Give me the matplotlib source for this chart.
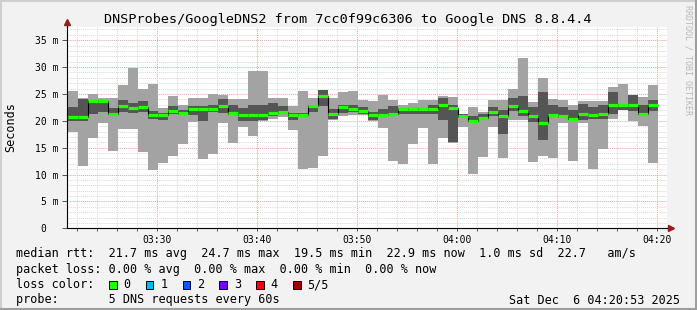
import matplotlib
matplotlib.use("Agg")
import matplotlib.pyplot as plt
import matplotlib.dates as mdates
import pandas as pd
from matplotlib.patches import Rectangle
from matplotlib.lines import Line2D

# ---------------- data ----------------
title = "DNSProbes/GoogleDNS2 from 7cc0f99c6306 to Google DNS 8.8.4.4"

# end time of each probe round (5 DNS requests every 60 s)
bin_ends = pd.date_range("2025-12-06 03:22:06", periods=59, freq="60s")

# sorted ping values per round (ms): max, 4th, median, 2nd, min
ping_max = [25.5, 24.3, 24.9, 24.2, 24.3, 26.6, 29.8, 26.0, 26.8, 22.4,
            24.6, 22.9, 24.3, 24.3, 24.9, 24.8, 24.0, 24.0, 29.2, 29.2,
            24.3, 24.3, 22.7, 25.5, 24.3, 25.8, 24.2, 25.3, 25.5, 23.8,
            23.7, 24.8, 23.9, 22.9, 23.4, 23.8, 23.8, 24.7, 24.5, 21.2,
            22.6, 21.7, 23.9, 23.9, 26.0, 31.6, 23.5, 28.0, 24.0, 23.8,
            22.9, 23.7, 23.7, 23.7, 26.3, 26.8, 24.8, 24.5, 26.6]
ping_q4 = [22.5, 24.0, 23.9, 23.6, 22.3, 23.8, 23.4, 23.7, 21.9, 21.4,
           22.8, 22.0, 22.7, 22.7, 23.0, 24.0, 23.0, 22.3, 22.9, 22.9,
           23.4, 22.7, 21.4, 21.4, 23.0, 25.7, 22.1, 22.9, 22.9, 22.6,
           21.7, 22.2, 22.7, 22.3, 22.4, 22.4, 23.0, 24.2, 23.0, 21.2,
           20.9, 21.2, 22.6, 22.0, 24.3, 24.6, 22.6, 25.4, 22.9, 22.6,
           22.0, 23.1, 22.6, 22.9, 25.3, 23.1, 24.8, 22.9, 23.8]
median = [20.7, 20.7, 23.6, 23.6, 21.2, 22.8, 22.4, 22.6, 21.1, 21.1,
          21.8, 21.5, 22.1, 22.1, 22.2, 22.8, 21.5, 21.1, 21.1, 21.1,
          21.5, 21.6, 21.1, 21.1, 22.7, 24.7, 21.2, 22.6, 22.1, 21.8,
          21.1, 21.1, 21.3, 22.1, 22.1, 22.1, 22.2, 22.9, 22.4, 20.9,
          20.0, 20.6, 21.7, 20.9, 22.8, 21.9, 20.8, 19.5, 21.1, 20.9,
          20.4, 21.2, 21.0, 21.3, 22.9, 22.9, 22.9, 21.3, 22.9]
ping_q2 = [20.0, 20.0, 21.2, 21.7, 21.0, 21.7, 21.4, 21.6, 20.4, 20.1,
           21.2, 21.1, 21.1, 20.0, 21.7, 21.4, 21.1, 20.0, 20.0, 20.2,
           20.9, 21.2, 20.1, 20.9, 21.6, 22.7, 20.3, 21.5, 21.7, 21.2,
           20.2, 20.9, 21.1, 21.2, 21.2, 21.2, 21.2, 20.1, 16.0, 20.6,
           19.8, 20.4, 20.9, 17.6, 21.8, 20.9, 19.8, 16.4, 20.8, 20.6,
           20.1, 20.2, 20.4, 20.3, 21.2, 22.0, 21.9, 21.0, 21.9]
ping_min = [18.0, 11.5, 16.8, 19.5, 14.4, 18.5, 18.5, 14.1, 10.8, 12.2,
            13.5, 15.6, 19.8, 12.8, 13.9, 19.6, 15.9, 18.9, 17.2, 20.0,
            20.3, 20.7, 18.3, 11.0, 11.3, 13.4, 20.1, 20.8, 21.1, 21.0,
            20.0, 18.7, 12.5, 11.9, 15.7, 18.7, 11.9, 16.8, 15.8, 18.9,
            10.1, 13.3, 18.9, 13.1, 20.1, 20.1, 12.4, 13.4, 13.1, 19.5,
            12.5, 19.6, 11.0, 14.7, 20.4, 22.0, 20.0, 19.0, 12.1]

y_ticks = [0, 5, 10, 15, 20, 25, 30, 35]
y_tick_labels = ["0  ", "5 m", "10 m", "15 m", "20 m", "25 m", "30 m", "35 m"]
x_start, x_end = "2025-12-06 03:21:00", "2025-12-06 04:21:00"
x_ticks = ["2025-12-06 03:30", "2025-12-06 03:40", "2025-12-06 03:50",
           "2025-12-06 04:00", "2025-12-06 04:10", "2025-12-06 04:20"]
x_tick_labels = ["03:30", "03:40", "03:50", "04:00", "04:10", "04:20"]

stats_rtt = "median rtt:  21.7 ms avg  24.7 ms max  19.5 ms min  22.9 ms now  1.0 ms sd  22.7   am/s"
stats_loss = "packet loss: 0.00 % avg  0.00 % max  0.00 % min  0.00 % now"
probe_text = "probe:       5 DNS requests every 60s"
stamp_text = "Sat Dec  6 04:20:53 2025"
loss_labels = ["0", "1", "2", "3", "4", "5/5"]
loss_colors = ["#26ff00", "#00b8ff", "#0059ff", "#7e00ff", "#ff0000", "#a10000"]

# ---------------- style ----------------
W, H = 697, 310
BG = "#f2f2f2"
LIGHT = "#a3a3a3"
DARK = "#555555"
MONO = "DejaVu Sans Mono"

fig = plt.figure(figsize=(W / 100, H / 100), dpi=100, facecolor=BG)


def fx(x):
    return x / W


def fy(y):
    return 1 - y / H


ax_l, ax_r, ax_b, ax_t = 67, 667, 228.3, 26.7
ax = fig.add_axes([fx(ax_l), fy(ax_b), (ax_r - ax_l) / W, (ax_b - ax_t) / H])
ax.set_facecolor("white")

ends = mdates.date2num(bin_ends.to_pydatetime())
edges = list(ends - 1.0 / 1440) + [ends[-1]]

ax.stairs(ping_max, edges, baseline=ping_min, fill=True, color=LIGHT, lw=0, zorder=2)
ax.stairs(ping_q4, edges, baseline=ping_q2, fill=True, color=DARK, lw=0, zorder=3)
ax.stairs(median, edges, baseline=None, color="black", lw=0.8, zorder=4)
ax.hlines(median, edges[:-1], edges[1:], colors=loss_colors[0], lw=2.3, zorder=5,
          capstyle="butt")

ax.set_xlim(mdates.datestr2num(x_start), mdates.datestr2num(x_end))
ax.set_ylim(0, 37.5)

ax.set_yticks(y_ticks)
ax.set_yticklabels(y_tick_labels)
ax.set_yticks(range(0, 38), minor=True)
ax.set_xticks([mdates.datestr2num(t) for t in x_ticks])
ax.set_xticklabels(x_tick_labels)
ax.xaxis.set_minor_locator(mdates.MinuteLocator(byminute=range(0, 60, 2)))

ax.grid(which="minor", color="#d8d8d8", lw=0.7, linestyle=(0, (1, 1)), zorder=0)
ax.grid(which="major", color="#eea0a0", lw=0.7, linestyle=(0, (1, 1)), zorder=1)
ax.set_axisbelow(True)

for lab in ax.get_xticklabels() + ax.get_yticklabels():
    lab.set_fontfamily(MONO)
    lab.set_fontsize(7)
ax.tick_params(axis="y", which="major", direction="out", length=3.5, width=0.7,
               color="#555555", pad=2.5)
ax.tick_params(axis="y", which="minor", length=0)
ax.tick_params(axis="x", which="both", direction="out", length=2.5, width=0.7,
               color="#555555", pad=2.0)

for s in ["top", "right"]:
    ax.spines[s].set_visible(False)
for s in ["left", "bottom"]:
    ax.spines[s].set_color("black")
    ax.spines[s].set_linewidth(0.8)

# axis extensions with arrows
arrow_c = "#9b1c1c"
fig.add_artist(Line2D([fx(ax_l), fx(ax_l)], [fy(ax_t), fy(22)], color="black", lw=0.8))
fig.add_artist(Line2D([fx(ax_r), fx(670)], [fy(ax_b), fy(ax_b)], color="black", lw=0.8))
fig.add_artist(Line2D([fx(ax_l)], [fy(22)], marker="^", ms=4.5, color=arrow_c, lw=0))
fig.add_artist(Line2D([fx(671)], [fy(ax_b)], marker=">", ms=4.5, color=arrow_c, lw=0))

# title and labels
fig.text(fx(348), fy(19), title, family=MONO, fontsize=9.7, ha="center", va="center")
fig.text(fx(11), fy(127), "Seconds", family=MONO, fontsize=8.5, rotation=90,
         ha="center", va="center")
fig.text(fx(688), fy(60), "RRDTOOL / TOBI OETIKER", family=MONO, fontsize=6,
         rotation=270, ha="center", va="center", color="#b8b8b8")

# legend area
lx = 16.4
fig.text(fx(lx), fy(253), stats_rtt, family=MONO, fontsize=8.5, ha="left", va="center")
fig.text(fx(lx), fy(269), stats_loss, family=MONO, fontsize=8.5, ha="left", va="center")
fig.text(fx(lx), fy(285), "loss color:", family=MONO, fontsize=8.5, ha="left", va="center")
fig.text(fx(lx), fy(300), probe_text, family=MONO, fontsize=8.5, ha="left", va="center")
fig.text(fx(680), fy(300), stamp_text, family=MONO, fontsize=8.5, ha="right", va="center")

box_x0, box_step, box_w, box_h = 109, 36.8, 7.5, 8
for i, (lab, col) in enumerate(zip(loss_labels, loss_colors)):
    bx = box_x0 + i * box_step
    fig.add_artist(Rectangle((fx(bx), fy(289)), box_w / W, box_h / H, transform=fig.transFigure,
                             facecolor=col, edgecolor="black", lw=0.7))
    fig.text(fx(bx + 14.6), fy(285), lab, family=MONO, fontsize=8.5, ha="left", va="center")

# 3D frame
fig.add_artist(Line2D([0, 1], [fy(0.5), fy(0.5)], color="#cfcfcf", lw=1.5))
fig.add_artist(Line2D([fx(0.5), fx(0.5)], [0, 1], color="#cfcfcf", lw=1.5))
fig.add_artist(Line2D([0, 1], [fy(309), fy(309)], color="#9e9e9e", lw=1.5))
fig.add_artist(Line2D([fx(696), fx(696)], [0, 1], color="#9e9e9e", lw=1.5))

fig.savefig("out.png", dpi=100, facecolor=BG)
